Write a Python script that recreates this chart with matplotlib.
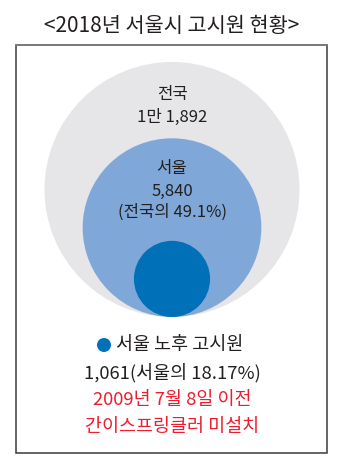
import numpy as np
import matplotlib
matplotlib.use("Agg")
import matplotlib.pyplot as plt
from matplotlib.patches import Circle, Rectangle

plt.rcParams['font.family'] = ['Noto Sans CJK KR', 'DejaVu Sans']

# Gosiwon counts, 2018
groups = ["전국", "서울", "서울 노후 고시원"]
counts = [11892, 5840, 1061]
count_labels = ["1만 1,892", "5,840", "1,061"]
share_labels = ["", "(전국의 49.1%)", "(서울의 18.17%)"]
note_lines = ["2009년 7월 8일 이전", "간이스프링클러 미설치"]
title = "<2018년 서울시 고시원 현황>"

W, H = 346, 467
fig = plt.figure(figsize=(W / 100, H / 100), dpi=100)
ax = fig.add_axes([0, 0, 1, 1])
ax.set_xlim(0, W)
ax.set_ylim(H, 0)
ax.set_aspect('equal')
ax.axis('off')

dark = '#231f20'
colors = ['#e6e6e8', '#7fa8d8', '#0070b8']

# frame
ax.add_patch(Rectangle((16, 45), 311, 408, fill=False, edgecolor='#3a3a3a', lw=1.1))
ax.plot([16, 327], [45, 45], color='#808080', lw=1.2)

# nested circles, area proportional to counts, tangent at the bottom
cx, bottom = 172, 317
r_max = 127.5
for n, c in zip(counts, colors):
    r = r_max * np.sqrt(n / counts[0])
    ax.add_patch(Circle((cx, bottom - r), r, facecolor=c, edgecolor='none'))

ax.text(172, 26, title, ha='center', va='center', fontsize=15, color=dark)

fs = 12
ax.text(cx, 94, groups[0], ha='center', va='center', fontsize=fs, color=dark)
ax.text(cx, 117, count_labels[0], ha='center', va='center', fontsize=fs, color=dark)
ax.text(cx, 168, groups[1], ha='center', va='center', fontsize=fs, color=dark)
ax.text(cx, 191, count_labels[1], ha='center', va='center', fontsize=fs, color=dark)
ax.text(cx, 212, share_labels[1], ha='center', va='center', fontsize=fs, color=dark)

# legend-style caption for the innermost circle
fb = 13.3
ax.add_patch(Circle((104, 345), 7, facecolor=colors[2], edgecolor='none'))
ax.text(116, 345, groups[2], ha='left', va='center', fontsize=fb, color=dark)
ax.text(cx, 373, count_labels[2] + share_labels[2], ha='center', va='center',
        fontsize=fb, color=dark)
for y, line in zip([400, 427], note_lines):
    ax.text(cx, y, line, ha='center', va='center', fontsize=fb, color='#ed1c2e')

fig.savefig('out.png', dpi=100)
